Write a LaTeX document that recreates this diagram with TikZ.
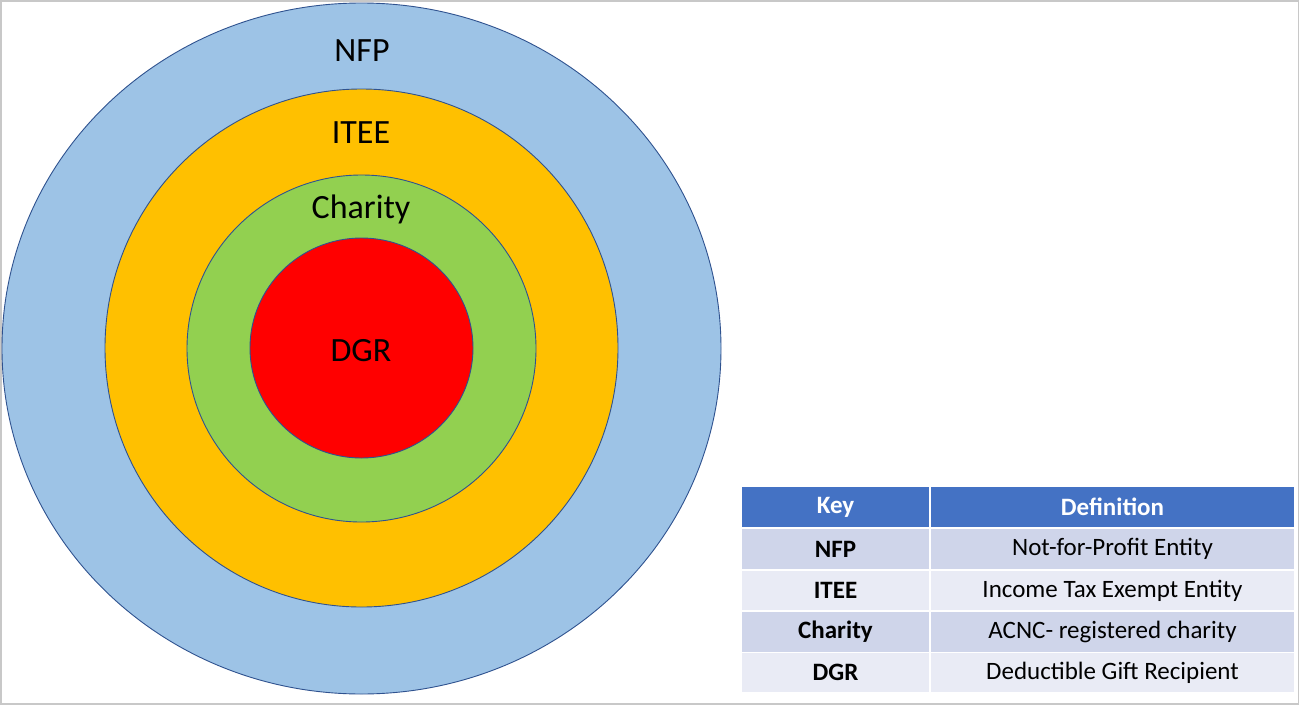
\documentclass[tikz,border=0pt]{standalone}
\usepackage{fontspec}
\setmainfont{Carlito}
\definecolor{nfpblue}{HTML}{9DC3E6}
\definecolor{iteeorange}{HTML}{FFC000}
\definecolor{chgreen}{HTML}{92D050}
\definecolor{dgrred}{HTML}{FF0000}
\definecolor{ringline}{HTML}{2F528F}
\definecolor{hdrblue}{HTML}{4472C4}
\definecolor{rowdark}{HTML}{CFD5EA}
\definecolor{rowlight}{HTML}{E9EBF5}
\definecolor{framegray}{HTML}{C8C8C8}
\tikzset{
  ring/.style={draw=ringline, line width=0.9pt},
  ringlabel/.style={font=\fontsize{34}{40}\selectfont, text=black, inner sep=0pt},
  cell/.style={inner sep=0pt, minimum height=39.5pt, font=\fontsize{25}{30}\selectfont},
  keycell/.style={cell, minimum width=187pt, font=\fontsize{25}{30}\selectfont\bfseries},
  defcell/.style={cell, minimum width=363pt},
  hdr/.style={fill=hdrblue, text=white, font=\fontsize{25}{30}\selectfont\bfseries},
  dark/.style={fill=rowdark},
  light/.style={fill=rowlight}
}
\begin{document}
\begin{tikzpicture}[x=1pt,y=-1pt]
\useasboundingbox (0,0) rectangle (1301,707);
\fill[white] (0,0) rectangle (1301,707);
\draw[framegray, line width=1.5pt] (1,1) rectangle (1298.5,704);
% rings
\filldraw[ring, fill=nfpblue] (361.5,348.5) ellipse [x radius=359.5, y radius=345.5];
\filldraw[ring, fill=iteeorange] (361.5,348) ellipse [x radius=256.5, y radius=259];
\filldraw[ring, fill=chgreen] (361.5,348.5) ellipse [x radius=174.5, y radius=173.5];
\filldraw[ring, fill=dgrred] (361.5,348) ellipse [x radius=111.5, y radius=110];
\node[ringlabel] (lnfp) at (362,51) {NFP};
\node[ringlabel] (litee) at (361,133) {ITEE};
\node[ringlabel] (lchar) at (361,209) {Charity};
\node[ringlabel] (ldgr) at (361,351) {DGR};
% table
\node[keycell, hdr] (hkey) at (835.5,507) {Key};
\node[defcell, hdr] (hdef) at (1112.5,507) {Definition};
\node[keycell, dark] (k1) at (835.5,549) {NFP};
\node[defcell, dark] (d1) at (1112.5,549) {Not-for-Profit Entity};
\node[keycell, light] (k2) at (835.5,590.5) {ITEE};
\node[defcell, light] (d2) at (1112.5,590.5) {Income Tax Exempt Entity};
\node[keycell, dark] (k3) at (835.5,632) {Charity};
\node[defcell, dark] (d3) at (1112.5,632) {ACNC- registered charity};
\node[keycell, light] (k4) at (835.5,672.5) {DGR};
\node[defcell, light] (d4) at (1112.5,672.5) {Deductible Gift Recipient};
\end{tikzpicture}
\end{document}
